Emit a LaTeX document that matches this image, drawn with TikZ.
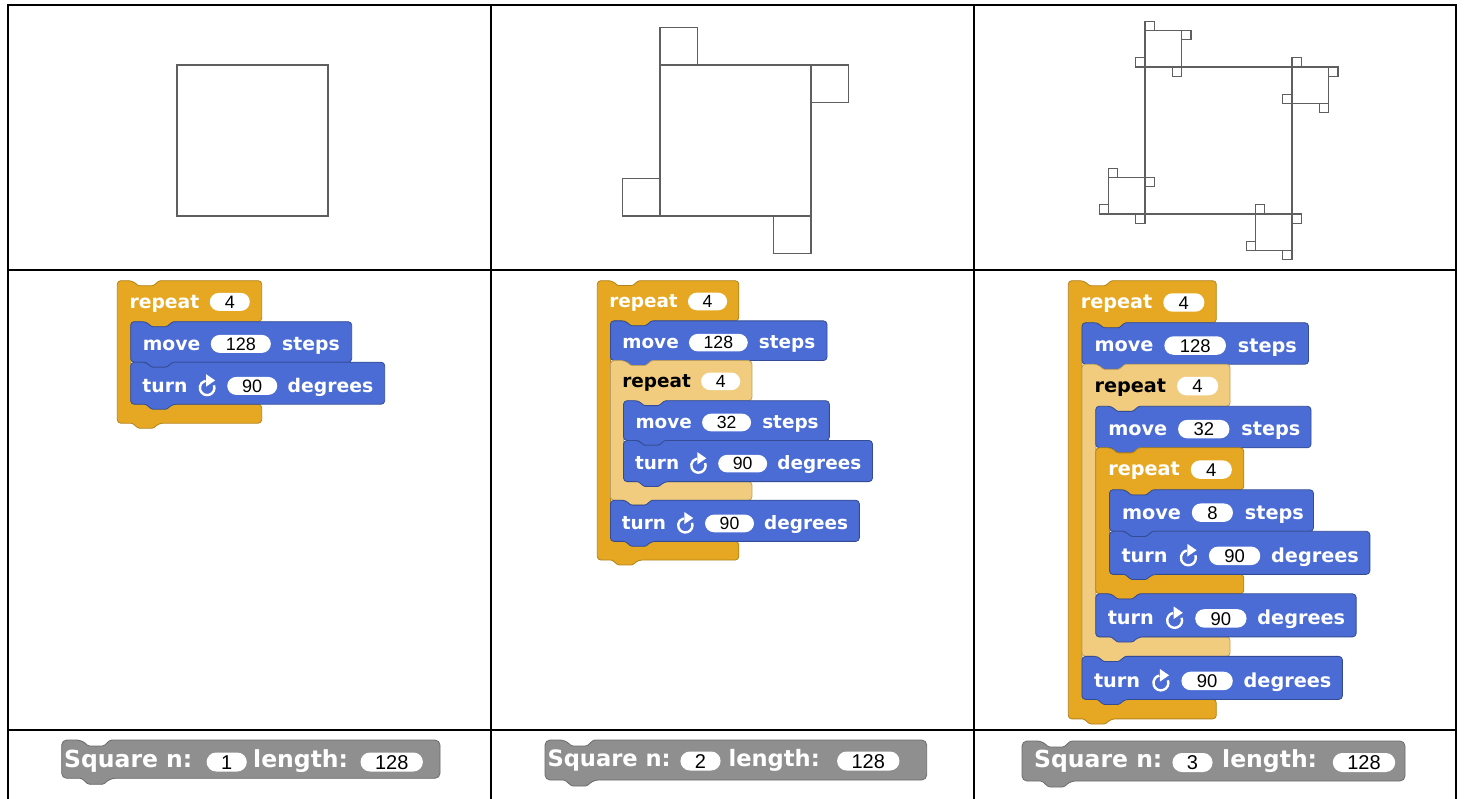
\documentclass[tikz,border=0pt]{standalone}
\usepackage{fontspec}
\newfontfamily\dejavu{DejaVu Sans}
\newfontfamily\arialf{Liberation Sans}
\usetikzlibrary{calc}
\definecolor{sblue}{RGB}{74,108,212}
\definecolor{sorange}{RGB}{230,168,34}
\definecolor{slight}{RGB}{241,204,126}
\definecolor{sgray}{RGB}{143,143,143}
\definecolor{tline}{RGB}{95,95,95}
\def\armw{13.4}

\tikzset{
  tabline/.style={draw=black, line width=2pt},
  turtleline/.style={draw=tline, line width=1.1pt},
  blueblk/.style={fill=sblue, draw=sblue!70!black, line width=0.8pt, rounded corners=3.5pt},
  orangeblk/.style={fill=sorange, draw=sorange!78!black, line width=0.8pt, rounded corners=3.5pt},
  lightblk/.style={fill=slight, draw=slight!78!black, line width=0.8pt, rounded corners=3.5pt},
  grayblk/.style={fill=sgray, draw=sgray!75!black, line width=0.8pt, rounded corners=5pt},
  lbl/.style={inner sep=0pt, anchor=base west, text=white, font=\dejavu\bfseries\fontsize{18.8}{22}\selectfont},
  lblk/.style={lbl, text=black},
  slot/.style={fill=white, rounded corners=9pt, inner xsep=15pt, inner ysep=0pt, minimum height=18pt,
    text height=12.9pt, text depth=0pt, anchor=west, text=black, font=\arialf\fontsize{18}{20}\selectfont},
  iconbox/.style={inner sep=0pt, minimum width=19pt, minimum height=0pt, anchor=base west},
  lblg/.style={inner sep=0pt, anchor=base west, text=white, font=\dejavu\bfseries\fontsize{23.5}{27}\selectfont},
  slotg/.style={fill=white, rounded corners=9.5pt, inner xsep=14.5pt, inner ysep=0pt, minimum height=19pt,
    text height=14.3pt, text depth=0pt, anchor=center, text=black, font=\arialf\fontsize{20}{22}\selectfont},
}

% recursive turtle square: level, x, y (y downwards), heading hx, hy, length
\newcommand\turtsq[6]{%
  \begingroup
  \pgfmathsetmacro\tAx{#2+(#4)*(#6)}%
  \pgfmathsetmacro\tAy{#3+(#5)*(#6)}%
  \pgfmathsetmacro\tBx{\tAx-(#5)*(#6)}%
  \pgfmathsetmacro\tBy{\tAy+(#4)*(#6)}%
  \pgfmathsetmacro\tCx{#2-(#5)*(#6)}%
  \pgfmathsetmacro\tCy{#3+(#4)*(#6)}%
  \draw[turtleline] ({#2},{-(#3)}) -- ({\tAx},{-\tAy}) -- ({\tBx},{-\tBy}) -- ({\tCx},{-\tCy}) -- cycle;
  \ifnum#1>1
    \pgfmathsetmacro\tsub{(#6)/4}%
    \pgfmathtruncatemacro\tlv{#1-1}%
    \pgfmathtruncatemacro\tnx{-(#4)}%
    \pgfmathtruncatemacro\tny{-(#5)}%
    \edef\tnext{%
      \noexpand\turtsq{\tlv}{\tAx}{\tAy}{#4}{#5}{\tsub}%
      \noexpand\turtsq{\tlv}{\tBx}{\tBy}{\tny}{#4}{\tsub}%
      \noexpand\turtsq{\tlv}{\tCx}{\tCy}{\tnx}{\tny}{\tsub}%
      \noexpand\turtsq{\tlv}{#2}{#3}{#5}{\tnx}{\tsub}}%
    \tnext
  \fi
  \endgroup}

% command block shape: x0, y0 (down), width, height, style
\newcommand\cmdshape[5]{%
  \pgfmathsetmacro\cxa{#1}\pgfmathsetmacro\cya{#2}%
  \pgfmathsetmacro\cxb{#1+#3}\pgfmathsetmacro\cyb{#2+#4}%
  \draw[#5] (\cxa,-\cya) -- ({\cxa+15},-\cya) [rounded corners=1.2pt] -- ({\cxa+21},{-\cya-5}) -- ({\cxa+36},{-\cya-5})
    -- ({\cxa+42},-\cya) [rounded corners=3.5pt] -- (\cxb,-\cya) -- (\cxb,-\cyb) -- ({\cxa+42},-\cyb)
    [rounded corners=1.2pt] -- ({\cxa+36},{-\cyb-5}) -- ({\cxa+21},{-\cyb-5}) -- ({\cxa+15},-\cyb)
    [rounded corners=3.5pt] -- (\cxa,-\cyb) -- cycle;}

% C-shaped block: x0, y0, width, top height, inner height, bottom height, style
\newcommand\cshape[7]{%
  \pgfmathsetmacro\cxa{#1}\pgfmathsetmacro\cxi{#1+\armw}\pgfmathsetmacro\cxb{#1+#3}%
  \pgfmathsetmacro\cya{#2}\pgfmathsetmacro\cyi{#2+#4}\pgfmathsetmacro\cyj{#2+#4+#5}%
  \pgfmathsetmacro\cyb{#2+#4+#5+#6}%
  \draw[#7] (\cxa,-\cya) -- ({\cxa+15},-\cya) [rounded corners=1.2pt] -- ({\cxa+21},{-\cya-5}) -- ({\cxa+36},{-\cya-5})
    -- ({\cxa+42},-\cya) [rounded corners=3.5pt] -- (\cxb,-\cya) -- (\cxb,-\cyi) -- ({\cxi+42},-\cyi)
    [rounded corners=1.2pt] -- ({\cxi+36},{-\cyi-5}) -- ({\cxi+21},{-\cyi-5}) -- ({\cxi+15},-\cyi)
    [rounded corners=3.5pt] -- (\cxi,-\cyi)
    -- (\cxi,-\cyj) -- (\cxb,-\cyj) -- (\cxb,-\cyb) -- ({\cxa+42},-\cyb)
    [rounded corners=1.2pt] -- ({\cxa+36},{-\cyb-5}) -- ({\cxa+21},{-\cyb-5}) -- ({\cxa+15},-\cyb)
    [rounded corners=3.5pt] -- (\cxa,-\cyb) -- cycle;}

% clockwise turn icon inside an icon box
\newcommand\turnicon[1]{%
  \draw[white, line width=2.4pt] ($(#1.base west)+(16.36,6.9)$) arc[start angle=20, end angle=-258, radius=7.3];
  \fill[white] ($(#1.base west)+(17.5,11.8)$) -- ($(#1.base west)+(8.5,18)$) -- ($(#1.base west)+(8.5,5.6)$) -- cycle;}

% repeat: name, x0, y0, inner height, shape style, label style
\newcommand\repeatblk[6]{%
  \cshape{#2}{#3}{144.4}{41}{#4}{19}{#5}%
  \node[#6] (#1a) at ({#2+12},{-(#3+27.5)}) {repeat};
  \node[slot] (#1b) at ($(#1a.base east)+(10,6.3)$) {4};}

% move: name, x0, y0, number, width
\newcommand\moveblk[5]{%
  \cmdshape{#2}{#3}{#5}{40.5}{blueblk}%
  \node[lbl] (#1a) at ({#2+12},{-(#3+28.5)}) {move};
  \node[slot] (#1b) at ($(#1a.base east)+(10,6.3)$) {#4};
  \node[lbl] (#1c) at ($(#1b.east)+(11,-6.3)$) {steps};}

% turn: name, x0, y0
\newcommand\turnblk[3]{%
  \cmdshape{#2}{#3}{254}{42}{blueblk}%
  \node[lbl] (#1a) at ({#2+11.5},{-(#3+30)}) {turn};
  \node[iconbox] (#1i) at ($(#1a.base east)+(10,0)$) {};
  \turnicon{#1i}%
  \node[slot] (#1b) at ($(#1i.base east)+(10,6.3)$) {90};
  \node[lbl] (#1c) at ($(#1b.east)+(10,-6.3)$) {degrees};}

\newcommand\grayshape[4]{%
  \draw[grayblk] (#1,-#2) -- ({#1+20},-#2) [rounded corners=1.5pt] -- ({#1+26.5},{-#2-6}) -- ({#1+42},{-#2-6}) -- ({#1+48.5},-#2)
    [rounded corners=5pt] -- (#3,-#2) -- (#3,-#4) -- ({#1+48.5},-#4)
    [rounded corners=1.5pt] -- ({#1+42},{-#4-6}) -- ({#1+26.5},{-#4-6}) -- ({#1+20},-#4)
    [rounded corners=5pt] -- (#1,-#4) -- cycle;}

\begin{document}
\begin{tikzpicture}[x=1pt,y=1pt]
\useasboundingbox (0,0) rectangle (1464,-799);
\fill[white] (0,0) rectangle (1464,-799);

% table
\draw[tabline] (7.5,-799) -- (7.5,-5) -- (1455.7,-5) -- (1455.7,-799);
\draw[tabline] (491,-5) -- (491,-799);
\draw[tabline] (974,-5) -- (974,-799);
\draw[tabline] (7.5,-270) -- (1455.7,-270);
\draw[tabline] (7.5,-730) -- (1455.7,-730);

% turtle drawings
\turtsq{1}{177}{216}{0}{-1}{151}
\turtsq{2}{660}{216}{0}{-1}{151}
\turtsq{3}{1145}{214}{0}{-1}{147}

% column 1 program
\begin{scope}[scale=1, transform shape]
\def\X{117.3}\def\Y{280.7}
\repeatblk{ra}{\X}{\Y}{82.5}{orangeblk}{lbl}
\moveblk{ma}{\X+\armw}{\Y+41}{128}{221}
\turnblk{ta}{\X+\armw}{\Y+81.5}
\end{scope}

% column 2 program
\begin{scope}[scale=0.98, transform shape]
\def\X{609.49}\def\Y{286.43}
\repeatblk{rb}{\X}{\Y}{225}{orangeblk}{lbl}
\moveblk{mb}{\X+\armw}{\Y+41}{128}{221}
\repeatblk{rbb}{\X+\armw}{\Y+81.5}{82.5}{lightblk}{lblk}
\moveblk{mbb}{\X+2*\armw}{\Y+122.5}{32}{210}
\turnblk{tbb}{\X+2*\armw}{\Y+163}
\turnblk{tb}{\X+\armw}{\Y+224}
\end{scope}

% column 3 program
\begin{scope}[scale=1.025, transform shape]
\def\X{1042.24}\def\Y{273.85}
\repeatblk{rc}{\X}{\Y}{367.5}{orangeblk}{lbl}
\moveblk{mc}{\X+\armw}{\Y+41}{128}{221}
\repeatblk{rcc}{\X+\armw}{\Y+81.5}{225}{lightblk}{lblk}
\moveblk{mcc}{\X+2*\armw}{\Y+122.5}{32}{210}
\repeatblk{rccc}{\X+2*\armw}{\Y+163}{82.5}{orangeblk}{lbl}
\moveblk{mccc}{\X+3*\armw}{\Y+204}{8}{199}
\turnblk{tccc}{\X+3*\armw}{\Y+244.5}
\turnblk{tcc}{\X+2*\armw}{\Y+305.5}
\turnblk{tc}{\X+\armw}{\Y+366.5}
\end{scope}

% bottom row: custom blocks
\grayshape{61.7}{740}{440}{778.3}
\node[lblg] (sqa) at (64,-767) {Square n:};
\node[slotg] (sqan) at (226.7,-762) {1};
\node[lblg] (sqal) at (253,-767) {length:};
\node[slotg] (sqav) at (391.7,-762) {128};

\grayshape{545}{740}{926.7}{780}
\node[lblg, font=\dejavu\bfseries\fontsize{22.6}{26}\selectfont] (sqb) at (547.3,-766.5) {Square n:};
\node[slotg] (sqbn) at (700.5,-761) {2};
\node[lblg, font=\dejavu\bfseries\fontsize{22.6}{26}\selectfont] (sqbl) at (728.3,-766.5) {length:};
\node[slotg] (sqbv) at (868.3,-761) {128};

\grayshape{1022}{741}{1405}{781}
\node[lblg] (sqc) at (1034,-767.5) {Square n:};
\node[slotg] (sqcn) at (1192.5,-762.5) {3};
\node[lblg] (sqcl) at (1222,-767.5) {length:};
\node[slotg] (sqcv) at (1364,-762.5) {128};
\end{tikzpicture}
\end{document}
